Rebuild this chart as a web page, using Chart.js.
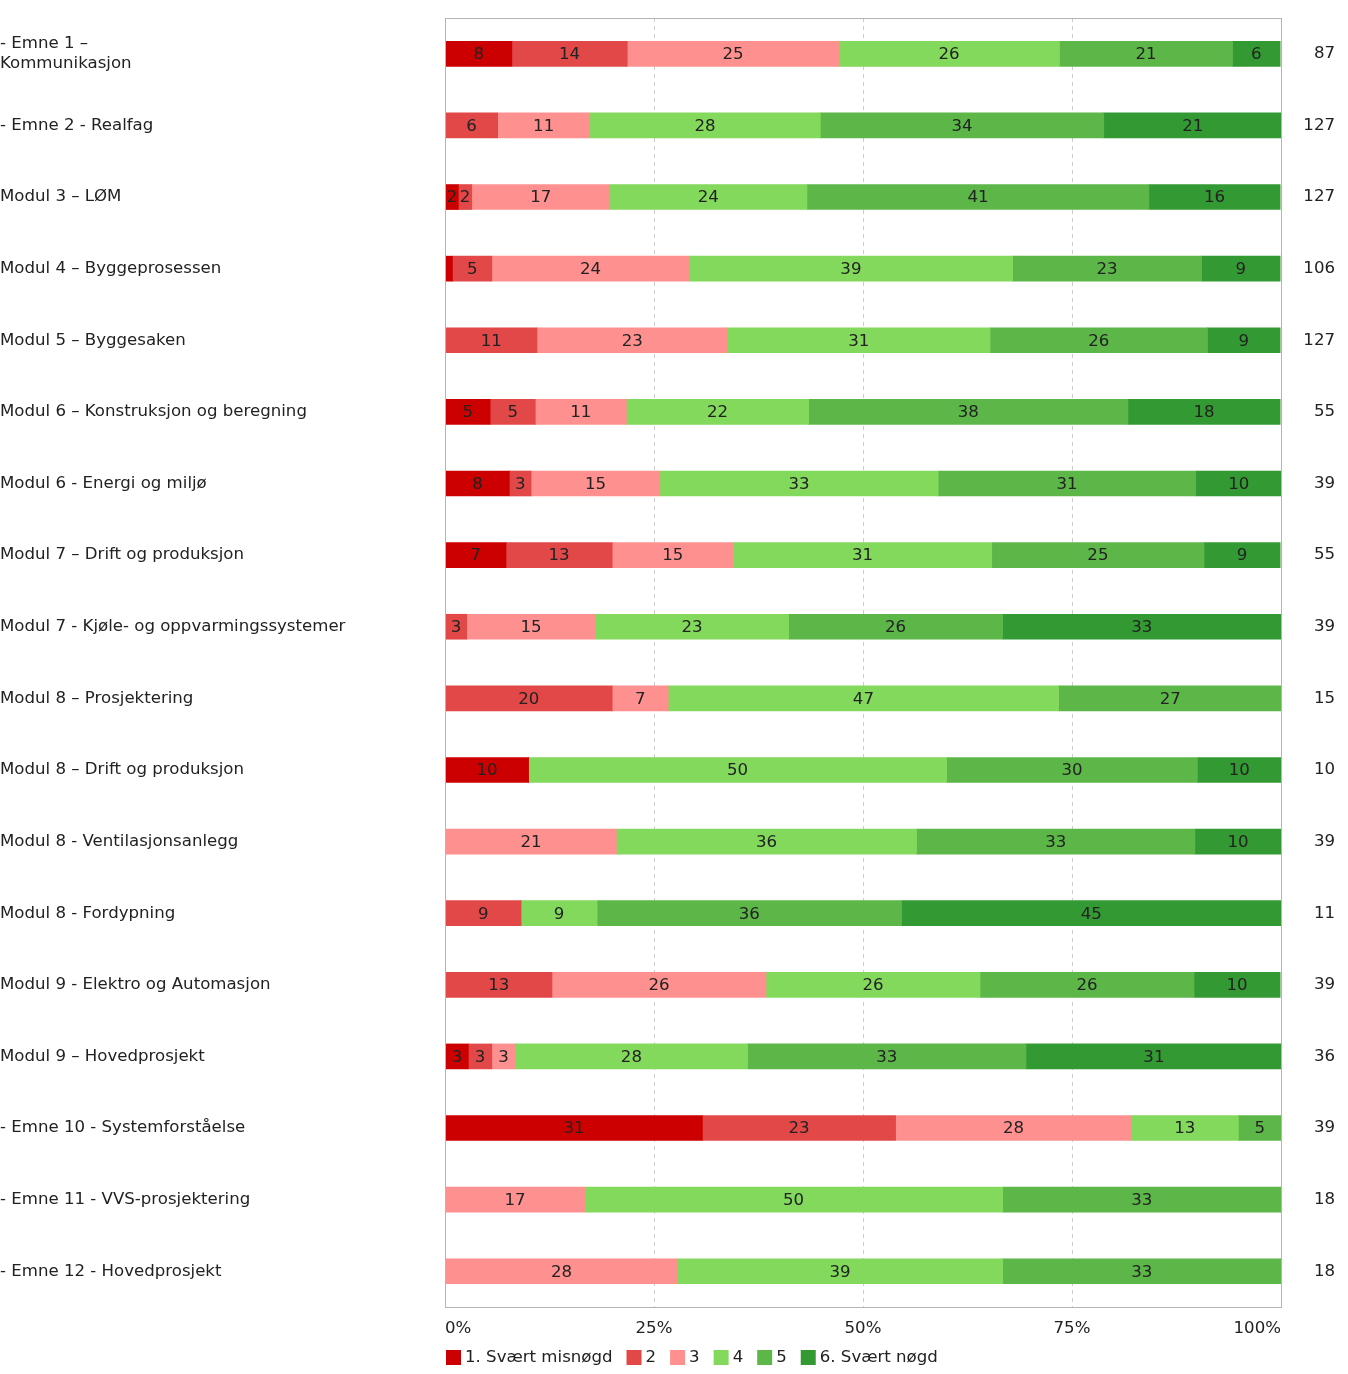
<!DOCTYPE html>
<html>
<head>
<meta charset="utf-8">
<script src="https://cdn.jsdelivr.net/npm/chart.js@4.4.1/dist/chart.umd.min.js"></script>
<style>
  body { margin: 0; background: #fff; }
  #wrap { width: 1348px; height: 1374px; position: relative; }
</style>
</head>
<body>
<div id="wrap"><canvas id="chart"></canvas></div>
<script>
// categories (left) and number of answers (right)
const categories = [
    ['- Emne 1 –', 'Kommunikasjon'],
    '- Emne 2 - Realfag',
    'Modul 3 – LØM',
    'Modul 4 – Byggeprosessen',
    'Modul 5 – Byggesaken',
    'Modul 6 – Konstruksjon og beregning',
    'Modul 6 - Energi og miljø',
    'Modul 7 – Drift og produksjon',
    'Modul 7 - Kjøle- og oppvarmingssystemer',
    'Modul 8 – Prosjektering',
    'Modul 8 – Drift og produksjon',
    'Modul 8 - Ventilasjonsanlegg',
    'Modul 8 - Fordypning',
    'Modul 9 - Elektro og Automasjon',
    'Modul 9 – Hovedprosjekt',
    '- Emne 10 - Systemforståelse',
    '- Emne 11 - VVS-prosjektering',
    '- Emne 12 - Hovedprosjekt'
];
const answerCounts = ['87', '127', '127', '106', '127', '55', '39', '55', '39', '15', '10', '39', '11', '39', '36', '39', '18', '18'];

const seriesNames = ['1. Svært misnøgd', '2', '3', '4', '5', '6. Svært nøgd'];
const seriesColors = ['#cc0000', '#e24848', '#ff9090', '#83d95c', '#5cb648', '#339933'];

// percentages per answer option
const s1 = [8.0, 0, 1.6, 0.9, 0, 5.4, 7.7, 7.3, 0, 0, 10, 0, 0, 0, 2.8, 30.8, 0, 0];
const s2 = [13.8, 6.3, 1.6, 4.7, 11.0, 5.4, 2.6, 12.7, 2.6, 20.0, 0, 0, 9.1, 12.8, 2.8, 23.1, 0, 0];
const s3 = [25.3, 11.0, 16.5, 23.6, 22.8, 10.9, 15.4, 14.5, 15.4, 6.7, 0, 20.5, 0, 25.6, 2.8, 28.2, 16.7, 27.8];
const s4 = [26.4, 27.6, 23.6, 38.7, 31.4, 21.8, 33.3, 30.9, 23.1, 46.7, 50, 35.9, 9.1, 25.6, 27.8, 12.8, 50.0, 38.9];
const s5 = [20.7, 33.9, 40.9, 22.6, 26.0, 38.2, 30.8, 25.4, 25.6, 26.7, 30, 33.3, 36.4, 25.6, 33.3, 5.1, 33.3, 33.3];
const s6 = [5.7, 21.3, 15.7, 9.4, 8.7, 18.2, 10.3, 9.1, 33.3, 0, 10, 10.3, 45.4, 10.3, 30.6, 0, 0, 0];

const tickLabels = ['0%', '25%', '50%', '75%', '100%'];

const FONT = "'DejaVu Sans', Verdana, sans-serif";
const FSIZE = 16.6;
const TEXT = '#222';

// write the rounded value in the middle of every segment
const segmentLabels = {
    id: 'segmentLabels',
    afterDatasetsDraw(chart) {
        const ctx = chart.ctx;
        ctx.save();
        ctx.font = FSIZE + 'px ' + FONT;
        ctx.fillStyle = TEXT;
        ctx.textAlign = 'center';
        ctx.textBaseline = 'middle';
        chart.data.datasets.forEach((ds, i) => {
            const meta = chart.getDatasetMeta(i);
            meta.data.forEach((bar, j) => {
                const v = ds.data[j];
                if (!v || v < 1.2) return;
                ctx.fillText(String(Math.round(v)), (bar.x + bar.base) / 2, bar.y + 1);
            });
        });
        ctx.restore();
    }
};

// grey frame round the plot + legend under the axis, left-aligned to the plot
const frameAndLegend = {
    id: 'frameAndLegend',
    afterDraw(chart) {
        const a = chart.chartArea;
        const ctx = chart.ctx;
        ctx.save();
        ctx.strokeStyle = '#b4b4b4';
        ctx.lineWidth = 1;
        ctx.strokeRect(Math.round(a.left) + 0.5, Math.round(a.top) + 0.5,
            Math.round(a.right - a.left), Math.round(a.bottom - a.top));

        ctx.font = FSIZE + 'px ' + FONT;
        ctx.textBaseline = 'middle';
        ctx.textAlign = 'left';
        let x = Math.round(a.left) + 1;
        const y = chart.height - 16;
        chart.data.datasets.forEach((ds, i) => {
            ctx.fillStyle = ds.backgroundColor;
            ctx.fillRect(x, y - 8, 15, 15);
            ctx.fillStyle = TEXT;
            ctx.fillText(ds.label, x + 19, y);
            x += 19 + ctx.measureText(ds.label).width + 14;
        });
        ctx.restore();
    }
};

const seriesData = [s1, s2, s3, s4, s5, s6];

new Chart(document.getElementById('chart'), {
    type: 'bar',
    data: {
        labels: categories,
        datasets: seriesData.map((d, i) => ({
            label: seriesNames[i],
            data: d,
            backgroundColor: seriesColors[i],
            borderWidth: 0,
            barThickness: 25,
            yAxisID: 'y'
        }))
    },
    options: {
        indexAxis: 'y',
        responsive: true,
        maintainAspectRatio: false,
        animation: false,
        layout: { padding: { top: 18, left: 0, right: 13, bottom: 23 } },
        plugins: {
            legend: { display: false },
            tooltip: { enabled: false }
        },
        scales: {
            x: {
                stacked: true,
                min: 0,
                max: 100,
                ticks: {
                    stepSize: 25,
                    align: 'inner',
                    padding: 12,
                    color: TEXT,
                    font: { family: FONT, size: FSIZE },
                    callback: (v, i) => tickLabels[i]
                },
                grid: {
                    drawTicks: false,
                    color: c => (c.tick && c.tick.value > 0 && c.tick.value < 100) ? '#cccccc' : 'transparent'
                },
                border: { display: false, dash: [4, 4] }
            },
            y: {
                stacked: true,
                position: 'left',
                grid: { display: false },
                border: { display: false },
                ticks: {
                    crossAlign: 'far',
                    color: TEXT,
                    font: { family: FONT, size: FSIZE, lineHeight: 1.22 }
                },
                afterFit: s => { s.width = 445; }
            },
            y2: {
                type: 'category',
                labels: answerCounts,
                position: 'right',
                offset: true,
                grid: { display: false },
                border: { display: false },
                ticks: {
                    crossAlign: 'far',
                    color: TEXT,
                    font: { family: FONT, size: FSIZE }
                },
                afterFit: s => { s.width = 54; }
            }
        }
    },
    plugins: [segmentLabels, frameAndLegend]
});
</script>
</body>
</html>
